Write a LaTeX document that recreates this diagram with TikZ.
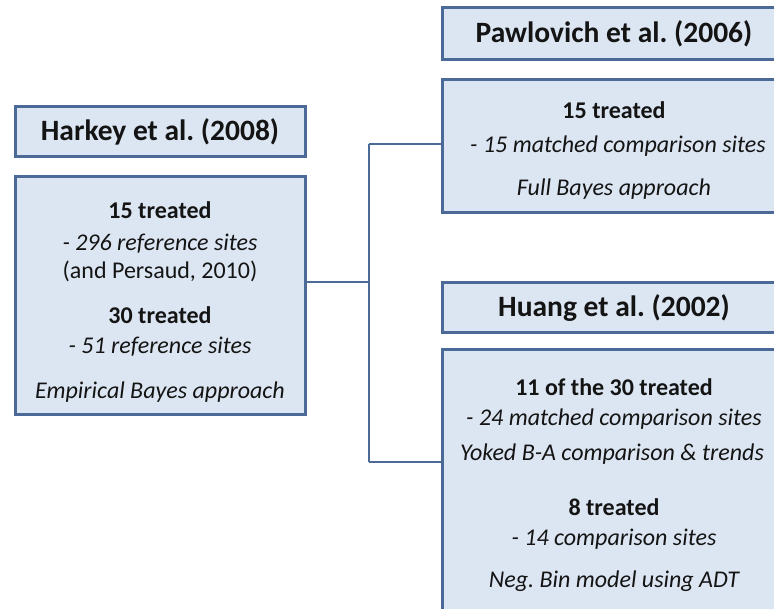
\documentclass[tikz,border=0pt]{standalone}
\usepackage{fontspec}
\setmainfont{Carlito}
\frenchspacing
\definecolor{boxfill}{RGB}{220,230,242}
\definecolor{boxline}{RGB}{76,106,152}
\definecolor{txt}{RGB}{20,20,20}
\begin{document}
\begin{tikzpicture}[x=1pt,y=1pt,
  box/.style={draw=boxline,fill=boxfill,line width=3pt,rectangle,inner sep=0pt},
  ttl/.style={font=\fontsize{29.5}{32}\selectfont\bfseries,text=txt},
  bl/.style={font=\fontsize{24}{28}\selectfont\bfseries,text=txt,text height=17pt,text depth=5pt,inner sep=0pt},
  il/.style={font=\fontsize{24}{28}\selectfont\itshape,text=txt,text height=17pt,text depth=5pt,inner sep=0pt},
  nl/.style={font=\fontsize{24}{28}\selectfont,text=txt,text height=17pt,text depth=5pt,inner sep=0pt},
  conn/.style={draw=boxline,line width=2pt}]
\useasboundingbox (0,0) rectangle (774,609);
\clip (0,0) rectangle (774,609);
% boxes (y = 609 - pixel y)
\node[box,minimum width=290pt,minimum height=50pt] (hT) at (160,477) {};
\node[box,minimum width=290pt,minimum height=238pt] (hB) at (160,313) {};
\node[box,minimum width=344pt,minimum height=52pt] (pT) at (614,575) {};
\node[box,minimum width=344pt,minimum height=133pt] (pB) at (614,462.5) {};
\node[box,minimum width=344pt,minimum height=50pt] (uT) at (614,301) {};
\node[box,minimum width=344pt,minimum height=280pt] (uB) at (614,119) {};
% titles
\node[ttl] (hTt) at (hT.center) {Harkey et al. (2008)};
\node[ttl] (pTt) at (pT.center) {Pawlovich et al. (2006)};
\node[ttl] (uTt) at (uT.center) {Huang et al. (2002)};
% Harkey body
\node[bl] (h1) at (160,396) {15 treated};
\node[il] (h2) at (160,364) {- 296 reference sites};
\node[nl] (h3) at (160,336) {(and Persaud, 2010)};
\node[bl] (h4) at (160,291) {30 treated};
\node[il] (h5) at (160,261) {- 51 reference sites};
\node[il] (h6) at (160,216) {Empirical Bayes approach};
% Pawlovich body
\node[bl] (p1) at (614,496) {15 treated};
\node[il] (p2) at (618,462) {- 15 matched comparison sites};
\node[il] (p3) at (614,419) {Full Bayes approach};
% Huang body
\node[bl] (u1) at (614,219) {11 of the 30 treated};
\node[il] (u2) at (614,189) {- 24 matched comparison sites};
\node[il] (u3) at (612,154) {Yoked B-A comparison \& trends};
\node[bl] (u4) at (614,99) {8 treated};
\node[il] (u5) at (614,69) {- 14 comparison sites};
\node[il] (u6) at (614,27) {Neg. Bin model using ADT};
% connectors
\coordinate (j) at (369,327);
\draw[conn] (hB.east |- j) -- (j);
\draw[conn] (369,465) -- (369,147);
\draw[conn] (369,465) -- (pB.west |- 0,465);
\draw[conn] (369,147) -- (uB.west |- 0,147);
\end{tikzpicture}
\end{document}
